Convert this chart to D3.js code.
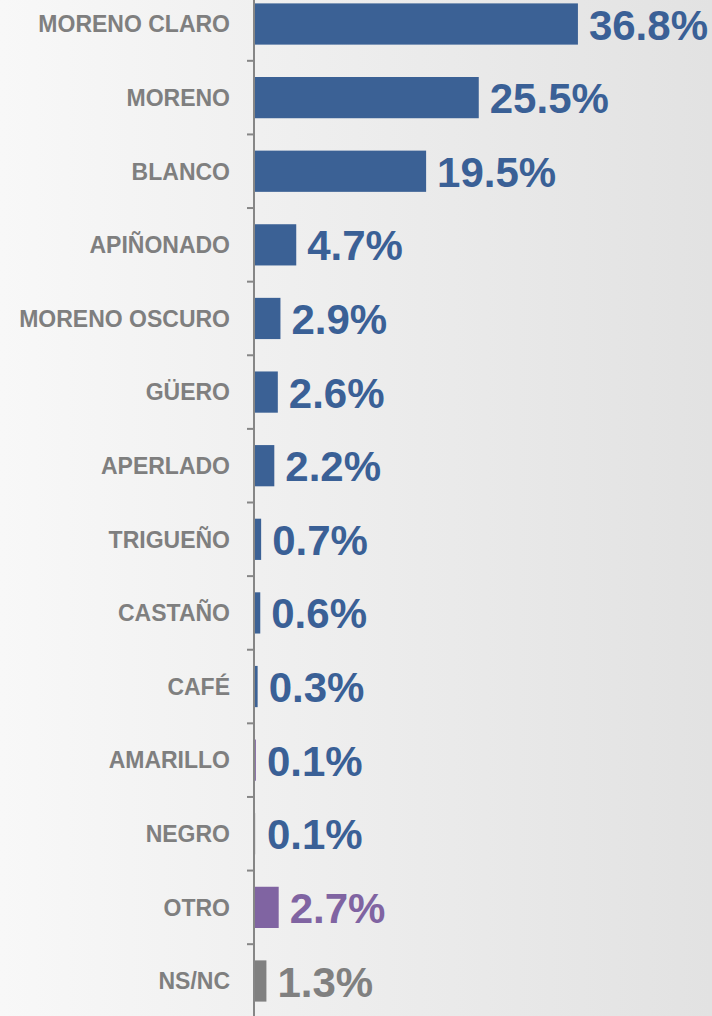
<!DOCTYPE html>
<html>
<head>
<meta charset="utf-8">
<script src="https://cdn.jsdelivr.net/npm/d3@7"></script>
<style>
  html, body { margin: 0; padding: 0; background: #fff; }
  svg { display: block; }
</style>
</head>
<body>
<div id="chart"></div>
<script>
const categories = ["MORENO CLARO", "MORENO", "BLANCO", "APIÑONADO", "MORENO OSCURO", "GÜERO",
    "APERLADO", "TRIGUEÑO", "CASTAÑO", "CAFÉ", "AMARILLO", "NEGRO", "OTRO", "NS/NC"];
const values = [36.8, 25.5, 19.5, 4.7, 2.9, 2.6, 2.2, 0.7, 0.6, 0.3, 0.1, 0.1, 2.7, 1.3];
const barColors = ["#3b6195", "#3b6195", "#3b6195", "#3b6195", "#3b6195", "#3b6195", "#3b6195",
    "#3b6195", "#3b6195", "#3b6195", "#8064a2", "#dcdcdc", "#8064a2", "#808080"];
const labelColors = ["#3a6096", "#3a6096", "#3a6096", "#3a6096", "#3a6096", "#3a6096", "#3a6096",
    "#3a6096", "#3a6096", "#3a6096", "#3a6096", "#3a6096", "#8064a2", "#808080"];

const width = 712, height = 1016;
const data = categories.map((c, i) => ({ cat: c, val: values[i], bar: barColors[i], lab: labelColors[i] }));

const svg = d3.select("#chart").append("svg")
    .attr("width", width)
    .attr("height", height);

const grad = svg.append("defs").append("linearGradient")
    .attr("id", "bg")
    .attr("x1", "0%").attr("x2", "100%")
    .attr("y1", "0%").attr("y2", "0%");
grad.append("stop").attr("offset", "0%").attr("stop-color", "#f8f8f8");
grad.append("stop").attr("offset", "100%").attr("stop-color", "#e2e2e2");

svg.append("rect")
    .attr("width", width).attr("height", height)
    .attr("fill", "url(#bg)");

const axisX = 254;

const y = d3.scaleBand()
    .domain(categories)
    .range([-12.8, 1017.8])
    .paddingInner(0.44)
    .paddingOuter(0.22);

const x = d3.scaleLinear()
    .domain([0, 40])
    .range([axisX + 1, axisX + 1 + 351]);

const step = y.step();

// bars
svg.selectAll("rect.bar")
    .data(data)
    .join("rect")
    .attr("class", "bar")
    .attr("x", x(0))
    .attr("y", d => y(d.cat))
    .attr("width", d => x(d.val) - x(0))
    .attr("height", y.bandwidth())
    .attr("fill", d => d.bar);

// axis line + ticks between categories
const axis = svg.append("g").attr("stroke", "#868686");
axis.append("line")
    .attr("x1", axisX).attr("x2", axisX)
    .attr("y1", 0).attr("y2", height)
    .attr("stroke-width", 2);

const boundaries = categories.map(c => y(c) - step * 0.22);
axis.selectAll("line.tick")
    .data(boundaries)
    .join("line")
    .attr("class", "tick")
    .attr("x1", axisX - 7).attr("x2", axisX)
    .attr("y1", d => d).attr("y2", d => d)
    .attr("stroke-width", 2);

// category labels
svg.selectAll("text.cat")
    .data(data)
    .join("text")
    .attr("class", "cat")
    .attr("x", 230)
    .attr("y", d => y(d.cat) + y.bandwidth() / 2)
    .attr("dy", "0.36em")
    .attr("text-anchor", "end")
    .attr("font-family", "'Liberation Sans', Arial, sans-serif")
    .attr("font-weight", "bold")
    .attr("font-size", 23)
    .attr("fill", "#7f7f7f")
    .text(d => d.cat);

// value labels
svg.selectAll("text.val")
    .data(data)
    .join("text")
    .attr("class", "val")
    .attr("x", d => x(d.val) + 11)
    .attr("y", d => y(d.cat) + y.bandwidth() / 2)
    .attr("dy", "0.37em")
    .attr("font-family", "'Liberation Sans', Arial, sans-serif")
    .attr("font-weight", "bold")
    .attr("font-size", 42)
    .attr("fill", d => d.lab)
    .text(d => d.val.toFixed(1) + "%");
</script>
</body>
</html>
